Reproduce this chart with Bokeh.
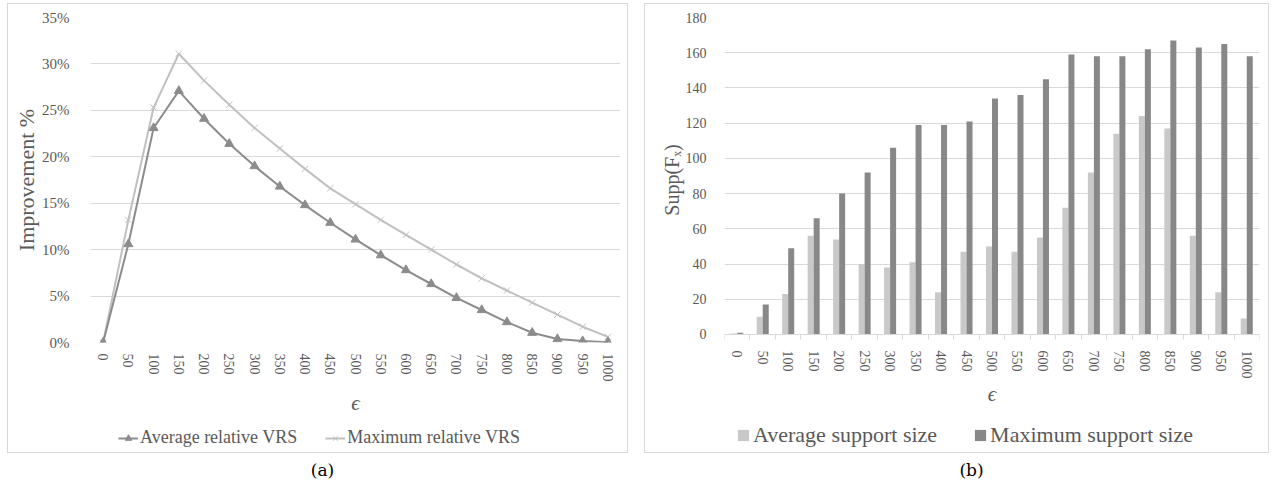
from bokeh.plotting import figure
from bokeh.models import (ColumnDataSource, FactorRange, Range1d, LinearAxis,
                          FixedTicker, PrintfTickFormatter, Legend, LegendItem, Div, Spacer)
from bokeh.layouts import row, column
from bokeh.transform import dodge
from bokeh.embed import file_html
from bokeh.resources import INLINE

# ---------------- data ----------------
eps_labels = ["0", "50", "100", "150", "200", "250", "300", "350", "400", "450", "500",
              "550", "600", "650", "700", "750", "800", "850", "900", "950", "1000"]

# (a) improvement in percent
avg_relative_vrs = [0.0, 10.6, 23.1, 27.1, 24.1, 21.4, 19.0, 16.8, 14.8, 12.9, 11.1,
                    9.4, 7.8, 6.3, 4.8, 3.5, 2.2, 1.05, 0.37, 0.15, 0.04]
max_relative_vrs = [0.0, 13.2, 25.3, 31.1, 28.2, 25.6, 23.1, 20.9, 18.7, 16.6, 14.9,
                    13.2, 11.6, 10.0, 8.4, 6.9, 5.6, 4.3, 3.0, 1.7, 0.6]

# (b) support sizes
avg_support = [0.5, 10, 23, 56, 54, 40, 38, 41, 24, 47, 50, 47, 55, 72, 92, 114, 124, 117, 56, 24, 9]
max_support = [1, 17, 49, 66, 80, 92, 106, 119, 119, 121, 134, 136, 145, 159, 158, 158, 162, 167, 163, 165, 158]

pct_ticks = [0, 5, 10, 15, 20, 25, 30, 35]
supp_ticks = [0, 20, 40, 60, 80, 100, 120, 140, 160, 180]

# ---------------- style ----------------
FONT = "Liberation Serif"
TXT = "#595959"
GRID = "#d9d9d9"
AVG_LINE = "#8c8c8c"
MAX_LINE = "#c0c0c0"
AVG_BAR = "#c9c9c9"
MAX_BAR = "#888888"
TOP_PART = {"border": "1px solid #d9d9d9", "border-bottom": "none", "box-sizing": "border-box"}
BOTTOM_PART = {"border": "1px solid #d9d9d9", "border-top": "none", "box-sizing": "border-box"}


def style_axis(ax, label_size):
    ax.axis_line_color = None
    ax.major_tick_line_color = None
    ax.minor_tick_line_color = None
    ax.major_label_text_font = FONT
    ax.major_label_text_color = TXT
    ax.major_label_text_font_size = label_size
    ax.axis_label_text_font = FONT
    ax.axis_label_text_color = TXT
    ax.axis_label_text_font_style = "normal"


def clean(fig):
    fig.outline_line_color = None
    fig.background_fill_color = None
    fig.border_fill_color = None


def legend_strip(width, x_range, y_range):
    f = figure(width=width, height=32, x_range=x_range, y_range=y_range,
               x_axis_location=None, y_axis_location=None, min_border=0,
               output_backend="svg", toolbar_location=None, styles=BOTTOM_PART)
    clean(f)
    f.grid.visible = False
    return f


# ---------------- (a) line chart ----------------
p1 = figure(width=621, height=418, x_range=FactorRange(factors=eps_labels, range_padding=0),
            y_range=Range1d(0, 35), output_backend="svg", toolbar_location=None,
            min_border_left=82, min_border_right=9, min_border_top=13, min_border_bottom=80,
            styles=TOP_PART)
clean(p1)
p1.xgrid.visible = False
p1.ygrid.grid_line_color = GRID
p1.ygrid.grid_line_width = 1

ya = p1.yaxis[0]
ya.ticker = FixedTicker(ticks=pct_ticks)
ya.formatter = PrintfTickFormatter(format="%d%%")
style_axis(ya, "15px")
ya.major_label_standoff = 15
ya.axis_label = "Improvement %"
ya.axis_label_text_font_size = "22px"
ya.axis_label_standoff = 0

xa = p1.xaxis[0]
style_axis(xa, "14px")
xa.major_label_orientation = "vertical"
xa.major_label_standoff = 5
xa.axis_label = "ϵ"
xa.axis_label_text_font_size = "21px"
xa.axis_label_text_font_style = "italic"
xa.axis_label_standoff = 6

src1 = ColumnDataSource(dict(eps=eps_labels, avg=avg_relative_vrs, mx=max_relative_vrs))
p1.line("eps", "mx", source=src1, line_color=MAX_LINE, line_width=2)
p1.scatter("eps", "mx", source=src1, marker="x", size=9, line_color=MAX_LINE, line_width=1)
p1.line("eps", "avg", source=src1, line_color=AVG_LINE, line_width=2)
p1.scatter("eps", "avg", source=src1, marker="triangle", size=9,
           fill_color=AVG_LINE, line_color=AVG_LINE)

# legend strip (a)
lf1 = legend_strip(621, FactorRange(factors=eps_labels), Range1d(0, 35))
g_la = lf1.line("eps", "avg", source=src1, line_color=AVG_LINE, line_width=2, visible=False)
g_sa = lf1.scatter("eps", "avg", source=src1, marker="triangle", size=9,
                   fill_color=AVG_LINE, line_color=AVG_LINE, visible=False)
g_lm = lf1.line("eps", "mx", source=src1, line_color=MAX_LINE, line_width=2, visible=False)
g_sm = lf1.scatter("eps", "mx", source=src1, marker="x", size=9, line_color=MAX_LINE,
                   line_width=1, visible=False)
leg1 = Legend(items=[LegendItem(label="Average relative VRS", renderers=[g_la, g_sa]),
                     LegendItem(label="Maximum relative VRS", renderers=[g_lm, g_sm])],
              orientation="horizontal", location=(28, 5), margin=0, padding=0,
              spacing=28, label_standoff=2, glyph_width=20, glyph_height=16,
              label_text_font=FONT, label_text_font_size="18px", label_text_color=TXT,
              border_line_color=None, background_fill_alpha=0)
lf1.add_layout(leg1, "center")

# ---------------- (b) bar chart ----------------
n_cat = len(eps_labels)
cat_index = list(range(n_cat))

p2 = figure(width=625, height=418, x_range=Range1d(-0.5, n_cat - 0.5),
            y_range=Range1d(-4.56, 180), output_backend="svg", toolbar_location=None,
            min_border_left=79, min_border_right=11, min_border_top=13, min_border_bottom=80,
            styles=TOP_PART)
clean(p2)
p2.xgrid.visible = False
p2.ygrid.grid_line_color = GRID

yb = p2.yaxis[0]
yb.ticker = FixedTicker(ticks=supp_ticks)
style_axis(yb, "14px")
yb.major_label_standoff = 12
yb.axis_label = "Supp(Fₓ)"
yb.axis_label_text_font_size = "20px"
yb.axis_label_standoff = 0

xb = p2.below[0]
xb.ticker = FixedTicker(ticks=cat_index)
xb.major_label_overrides = {i: lab for i, lab in zip(cat_index, eps_labels)}
style_axis(xb, "14px")
xb.major_label_orientation = "vertical"
xb.major_label_standoff = 2
xb.axis_label = "ϵ"
xb.axis_label_text_font_size = "21px"
xb.axis_label_text_font_style = "italic"
xb.axis_label_standoff = 0

# category axis line at zero, with tick marks on the category boundaries
tick_axis = LinearAxis(ticker=FixedTicker(ticks=[i - 0.5 for i in range(n_cat + 1)]),
                       major_label_overrides={i - 0.5: "" for i in range(n_cat + 1)},
                       major_label_text_font_size="0px", major_label_standoff=0,
                       major_tick_in=5, major_tick_out=0, major_tick_line_color=GRID,
                       minor_tick_line_color=None, axis_line_color=GRID, fixed_location=0)
p2.add_layout(tick_axis, "above")

src2 = ColumnDataSource(dict(idx=cat_index, avg=avg_support, mx=max_support))
p2.vbar(x=dodge("idx", -0.118), top="avg", width=0.236, source=src2,
        fill_color=AVG_BAR, line_color=None)
p2.vbar(x=dodge("idx", 0.118), top="mx", width=0.236, source=src2,
        fill_color=MAX_BAR, line_color=None)

# legend strip (b)
lf2 = legend_strip(625, Range1d(-0.5, n_cat - 0.5), Range1d(0, 180))
g_ba = lf2.vbar(x=dodge("idx", -0.118), top="avg", width=0.236, source=src2,
                fill_color=AVG_BAR, line_color=None, visible=False)
g_bm = lf2.vbar(x=dodge("idx", 0.118), top="mx", width=0.236, source=src2,
                fill_color=MAX_BAR, line_color=None, visible=False)
leg2 = Legend(items=[LegendItem(label="Average support size", renderers=[g_ba]),
                     LegendItem(label="Maximum support size", renderers=[g_bm])],
              orientation="horizontal", location=(12, 5), margin=0, padding=0,
              spacing=36, label_standoff=3, glyph_width=14, glyph_height=14,
              label_text_font=FONT, label_text_font_size="22px", label_text_color=TXT,
              border_line_color=None, background_fill_alpha=0)
lf2.add_layout(leg2, "center")

# ---------------- captions & layout ----------------
CAP = {"text-align": "center", "font-family": "DejaVu Serif", "font-size": "17px",
       "line-height": "24px", "color": "#000000"}
cap_a = Div(text="(a)", width=621, height=28, styles=CAP)
cap_b = Div(text="(b)", width=625, height=28, styles=CAP)

layout = column(Spacer(height=3),
                row(Spacer(width=7), column(p1, lf1), Spacer(width=16), column(p2, lf2)),
                row(Spacer(width=7), cap_a, Spacer(width=16), cap_b))

open("out.html", "w").write(file_html(layout, INLINE))
